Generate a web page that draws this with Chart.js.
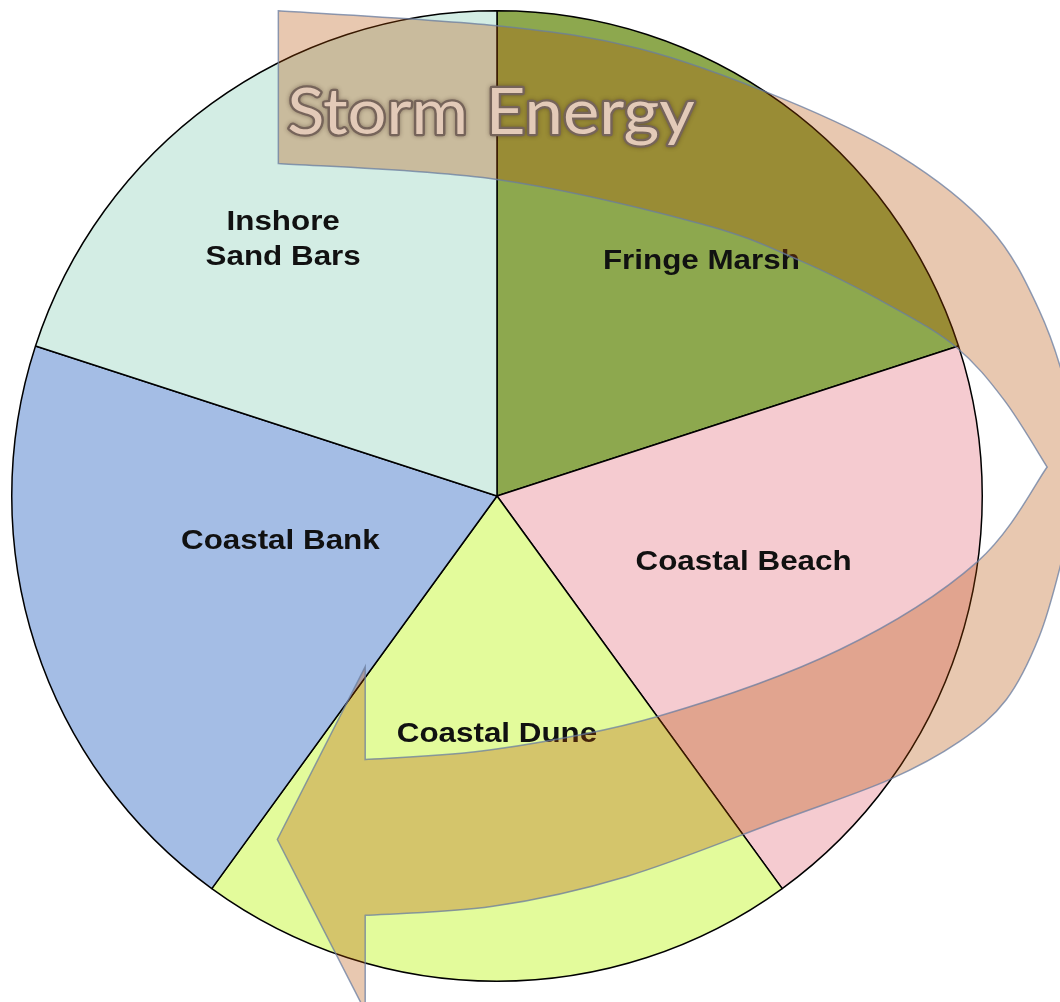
<!DOCTYPE html>
<html>
<head>
<meta charset="utf-8">
<script src="https://cdn.jsdelivr.net/npm/chart.js@4.4.0/dist/chart.umd.min.js"></script>
<style>
  html, body { margin: 0; padding: 0; background: #fff; }
  #wrap { position: relative; width: 1060px; height: 1002px; }
</style>
</head>
<body>
<div id="wrap"><canvas id="pieChart"></canvas></div>
<script>
// Data
const categories = ['Fringe Marsh', 'Coastal Beach', 'Coastal Dune', 'Coastal Bank', ['Inshore', 'Sand Bars']];
const shares = [20, 20, 20, 20, 20];
const sliceColors = ['#8da84e', '#f5cbd0', '#e3fb9b', '#a4bde5', '#d3ede4'];
const arrowTitle = 'Storm Energy';

// where each label sits inside its slice (angle nudge in degrees, fraction of radius)
const labelPlace = [
    { turn: 5, frac: 0.642 },
    { turn: -3, frac: 0.526 },
    { turn: 0, frac: 0.492 },
    { turn: 6.3, frac: 0.456 },
    { turn: -3.9, frac: 0.687 }
];

const sliceLabels = {
    id: 'sliceLabels',
    afterDatasetsDraw(chart) {
        const ctx = chart.ctx;
        const arcs = chart.getDatasetMeta(0).data;
        ctx.save();
        ctx.fillStyle = '#111';
        ctx.font = 'bold 28px "Liberation Sans", Arial, sans-serif';
        ctx.textAlign = 'center';
        ctx.textBaseline = 'middle';
        arcs.forEach(function (arc, i) {
            const p = labelPlace[i];
            const mid = (arc.startAngle + arc.endAngle) / 2 + p.turn * Math.PI / 180;
            const r = arc.outerRadius * p.frac;
            const x = arc.x + Math.cos(mid) * r;
            const y = arc.y + Math.sin(mid) * r;
            const lines = [].concat(chart.data.labels[i]);
            const lh = 35;
            lines.forEach(function (line, j) {
                ctx.save();
                ctx.translate(x, y + (j - (lines.length - 1) / 2) * lh);
                ctx.scale(1.12, 1);
                ctx.fillText(line, 0, 0);
                ctx.restore();
            });
        });
        ctx.restore();
    }
};

// Catmull-Rom through points, as bezier segments
function curveThrough(ctx, pts) {
    for (let i = 0; i < pts.length - 1; i++) {
        const p0 = pts[i - 1] || pts[i];
        const p1 = pts[i];
        const p2 = pts[i + 1];
        const p3 = pts[i + 2] || p2;
        ctx.bezierCurveTo(
            p1[0] + (p2[0] - p0[0]) / 6, p1[1] + (p2[1] - p0[1]) / 6,
            p2[0] - (p3[0] - p1[0]) / 6, p2[1] - (p3[1] - p1[1]) / 6,
            p2[0], p2[1]
        );
    }
}

// the curved "Storm Energy" arrow laid over the pie
const stormArrow = {
    id: 'stormArrow',
    afterDraw(chart) {
        const ctx = chart.ctx;
        const arc = chart.getDatasetMeta(0).data[0];
        const k = arc.outerRadius / 486;
        const map = function (p) { return [arc.x + (p[0] - 497) * k, arc.y + (p[1] - 496) * k]; };

        const outer = [[278, 10], [497, 25], [640, 48], [783, 98], [900, 155], [990, 227], [1040, 310],
            [1070, 400], [1080, 480], [1062, 563], [1040, 637], [1007, 700], [960, 742], [890, 780],
            [783, 820], [627, 877], [493, 907], [365, 916]].map(map);
        const head = [[365, 1012], [277, 840], [365, 667], [365, 760]].map(map);
        const innerLow = [[365, 760], [493, 750], [657, 717], [840, 650], [978, 562], [1048, 467]].map(map);
        const innerTop = [[1048, 467], [1005, 400], [957, 347], [890, 305], [800, 260], [700, 223],
            [497, 179], [278, 163]].map(map);

        ctx.save();
        ctx.beginPath();
        ctx.moveTo(outer[0][0], outer[0][1]);
        curveThrough(ctx, outer);
        head.forEach(function (p) { ctx.lineTo(p[0], p[1]); });
        curveThrough(ctx, innerLow);
        curveThrough(ctx, innerTop);
        ctx.closePath();
        ctx.fillStyle = 'rgba(180, 76, 0, 0.31)';
        ctx.fill();
        ctx.strokeStyle = 'rgba(105, 125, 160, 0.75)';
        ctx.lineWidth = 1.5;
        ctx.lineJoin = 'miter';
        ctx.stroke();

        // title on the arrow tail
        const t = map([287, 133]);
        ctx.font = (64 * k) + 'px Lato, "Open Sans", sans-serif';
        const w = ctx.measureText(arrowTitle).width;
        ctx.translate(t[0], t[1]);
        ctx.scale(408 * k / w, 1);
        ctx.textAlign = 'left';
        ctx.textBaseline = 'alphabetic';
        ctx.lineJoin = 'round';
        ctx.shadowColor = 'rgba(60, 40, 30, 0.45)';
        ctx.shadowBlur = 4;
        ctx.strokeStyle = '#76645a';
        ctx.lineWidth = 4.5;
        ctx.strokeText(arrowTitle, 0, 0);
        ctx.shadowColor = 'transparent';
        ctx.fillStyle = '#e3cab8';
        ctx.fillText(arrowTitle, 0, 0);
        ctx.restore();
    }
};

document.addEventListener('DOMContentLoaded', function () {
    const ctx = document.getElementById('pieChart').getContext('2d');
    new Chart(ctx, {
        type: 'pie',
        data: {
            labels: categories,
            datasets: [{
                data: shares,
                backgroundColor: sliceColors,
                borderColor: '#000',
                borderWidth: 1.5
            }]
        },
        options: {
            responsive: true,
            maintainAspectRatio: false,
            animation: false,
            layout: {
                padding: { left: 11, right: 77, top: 10, bottom: 20 }
            },
            plugins: {
                legend: { display: false },
                tooltip: { enabled: false }
            }
        },
        plugins: [sliceLabels, stormArrow]
    });
});
</script>
</body>
</html>
